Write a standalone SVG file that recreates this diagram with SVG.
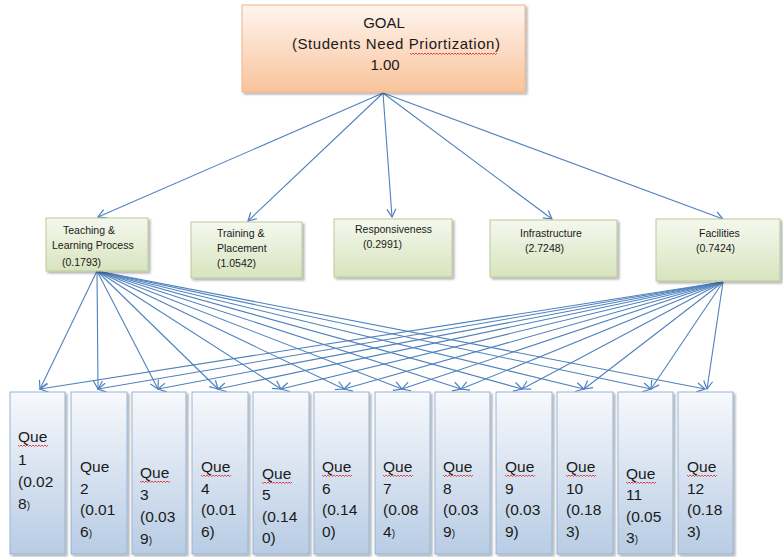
<svg xmlns="http://www.w3.org/2000/svg" width="783" height="557" viewBox="0 0 783 557">
<style>
.t{font-family:"Liberation Sans",Arial,sans-serif;fill:#1a1a1a}
.g{font-size:15px}
.c{font-size:10.5px}
.q{font-size:15.5px}
.sm{font-size:10px}
.ln{stroke:#4f81bd;stroke-width:1.1;fill:none}
.wv{stroke:#e02020;stroke-width:0.8;fill:none}
.qb{fill:url(#qg);stroke:#95b3d7;stroke-width:1}
.cb{fill:url(#cg);stroke:#b9c99a;stroke-width:1}
</style>
<defs>
<linearGradient id="og" x1="0" y1="0" x2="0" y2="1"><stop offset="0" stop-color="#fef5ef"/><stop offset="0.5" stop-color="#fcdcc5"/><stop offset="1" stop-color="#f8c49b"/></linearGradient>
<linearGradient id="cg" x1="0" y1="0" x2="0" y2="1"><stop offset="0" stop-color="#f5f8ee"/><stop offset="1" stop-color="#d8e4be"/></linearGradient>
<linearGradient id="qg" x1="0" y1="0" x2="0" y2="1"><stop offset="0" stop-color="#f7f9fc"/><stop offset="1" stop-color="#b8cce4"/></linearGradient>
<filter id="sh" x="-10%" y="-10%" width="130%" height="130%"><feDropShadow dx="2" dy="2" stdDeviation="1.2" flood-color="#000" flood-opacity="0.3"/></filter>
<marker id="ar" markerWidth="12" markerHeight="12" viewBox="-10 -6 12 12" refX="0" refY="0" orient="auto" markerUnits="userSpaceOnUse"><path d="M-8,-4.5 L0,0 L-8,4.5" stroke="#4f81bd" stroke-width="1.2" fill="none"/></marker>
<path id="wave" d="M0,0 l1.5,1.5 l1.5,-1.5 l1.5,1.5 l1.5,-1.5 l1.5,1.5 l1.5,-1.5 l1.5,1.5 l1.5,-1.5 l1.5,1.5 l1.5,-1.5 l1.5,1.5 l1.5,-1.5 l1.5,1.5 l1.5,-1.5 l1.5,1.5 l1.5,-1.5 l1.5,1.5 l1.5,-1.5 l1.5,1.5 l1.5,-1.5" class="wv"/>
</defs>
<rect width="783" height="557" fill="#fff"/>

<g id="connectors" class="ln" marker-end="url(#ar)">
<line x1="383" y1="93" x2="98" y2="217"/>
<line x1="383" y1="93" x2="248" y2="221"/>
<line x1="383" y1="93" x2="392" y2="217"/>
<line x1="383" y1="93" x2="552" y2="219"/>
<line x1="383" y1="93" x2="723" y2="219"/>
<line x1="97" y1="271" x2="40" y2="389"/>
<line x1="97" y1="271" x2="98" y2="389"/>
<line x1="97" y1="271" x2="158" y2="389"/>
<line x1="97" y1="271" x2="218" y2="389"/>
<line x1="97" y1="271" x2="281" y2="389"/>
<line x1="97" y1="271" x2="344" y2="389"/>
<line x1="97" y1="271" x2="402" y2="389"/>
<line x1="97" y1="271" x2="461" y2="389"/>
<line x1="97" y1="271" x2="522" y2="389"/>
<line x1="97" y1="271" x2="584" y2="389"/>
<line x1="97" y1="271" x2="651" y2="389"/>
<line x1="97" y1="271" x2="705" y2="389"/>
<line x1="723" y1="282" x2="40" y2="389"/>
<line x1="723" y1="282" x2="98" y2="389"/>
<line x1="723" y1="282" x2="158" y2="389"/>
<line x1="723" y1="282" x2="218" y2="389"/>
<line x1="723" y1="282" x2="281" y2="389"/>
<line x1="723" y1="282" x2="344" y2="389"/>
<line x1="723" y1="282" x2="402" y2="389"/>
<line x1="723" y1="282" x2="461" y2="389"/>
<line x1="723" y1="282" x2="522" y2="389"/>
<line x1="723" y1="282" x2="584" y2="389"/>
<line x1="723" y1="282" x2="651" y2="389"/>
<line x1="723" y1="282" x2="707" y2="389"/>
</g>

<g id="goal">
<rect x="242" y="5" width="283" height="87" fill="url(#og)" stroke="#f0b48a" stroke-width="1" filter="url(#sh)"/>
<text class="t g" x="384" y="28" text-anchor="middle">GOAL</text>
<text class="t g" x="292" y="49" textLength="208" lengthAdjust="spacing">(Students Need Priortization)</text>
<use href="#wave" x="410" y="53"/>
<use href="#wave" x="440" y="53"/>
<use href="#wave" x="467" y="53"/>
<text class="t g" x="385" y="70" text-anchor="middle">1.00</text>
</g>

<g id="teaching">
<rect class="cb" x="46" y="218" width="102" height="53" filter="url(#sh)"/>
<text class="t c" x="63" y="234">Teaching &amp;</text>
<text class="t c" x="52" y="249">Learning Process</text>
<text class="t c" x="62" y="266">(0.1793)</text>
</g>
<g id="training">
<rect class="cb" x="191" y="222" width="111" height="56" filter="url(#sh)"/>
<text class="t c" x="217" y="237">Training &amp;</text>
<text class="t c" x="217" y="252">Placement</text>
<text class="t c" x="217" y="267">(1.0542)</text>
</g>
<g id="responsiveness">
<rect class="cb" x="334" y="219" width="118" height="58" filter="url(#sh)"/>
<text class="t c" x="355" y="233">Responsiveness</text>
<text class="t c" x="363" y="248">(0.2991)</text>
</g>
<g id="infrastructure">
<rect class="cb" x="490" y="220" width="127" height="57" filter="url(#sh)"/>
<text class="t c" x="520" y="237">Infrastructure</text>
<text class="t c" x="525" y="252">(2.7248)</text>
</g>
<g id="facilities">
<rect class="cb" x="656" y="219" width="124" height="62" filter="url(#sh)"/>
<text class="t c" x="699" y="237">Facilities</text>
<text class="t c" x="696" y="252">(0.7424)</text>
</g>

<g id="q1"><rect class="qb" x="10" y="392" width="55" height="162" filter="url(#sh)"/>
<text class="t q"><tspan x="18" y="442">Que</tspan><tspan x="18" y="465">1</tspan><tspan x="18" y="487">(0.02</tspan><tspan x="18" y="509">8<tspan class="sm">)</tspan></tspan></text>
<use href="#wave" x="18" y="445"/></g>
<g id="q2"><rect class="qb" x="71" y="392" width="56" height="162" filter="url(#sh)"/>
<text class="t q"><tspan x="80" y="472">Que</tspan><tspan x="80" y="494">2</tspan><tspan x="80" y="515">(0.01</tspan><tspan x="80" y="537">6<tspan class="sm">)</tspan></tspan></text></g>
<g id="q3"><rect class="qb" x="132" y="392" width="54" height="162" filter="url(#sh)"/>
<text class="t q"><tspan x="140" y="478">Que</tspan><tspan x="140" y="500">3</tspan><tspan x="140" y="522">(0.03</tspan><tspan x="140" y="544">9<tspan class="sm">)</tspan></tspan></text>
<use href="#wave" x="140" y="481"/></g>
<g id="q4"><rect class="qb" x="192" y="392" width="56" height="162" filter="url(#sh)"/>
<text class="t q"><tspan x="201" y="472">Que</tspan><tspan x="201" y="494">4</tspan><tspan x="201" y="515">(0.01</tspan><tspan x="201" y="537">6)</tspan></text>
<use href="#wave" x="201" y="475"/></g>
<g id="q5"><rect class="qb" x="253" y="392" width="56" height="162" filter="url(#sh)"/>
<text class="t q"><tspan x="262" y="479">Que</tspan><tspan x="262" y="500">5</tspan><tspan x="262" y="522">(0.14</tspan><tspan x="262" y="543">0)</tspan></text>
<use href="#wave" x="262" y="482"/></g>
<g id="q6"><rect class="qb" x="314" y="392" width="55" height="162" filter="url(#sh)"/>
<text class="t q"><tspan x="322" y="472">Que</tspan><tspan x="322" y="494">6</tspan><tspan x="322" y="515">(0.14</tspan><tspan x="322" y="537">0)</tspan></text>
<use href="#wave" x="322" y="475"/></g>
<g id="q7"><rect class="qb" x="375" y="392" width="55" height="162" filter="url(#sh)"/>
<text class="t q"><tspan x="383" y="472">Que</tspan><tspan x="383" y="494">7</tspan><tspan x="383" y="515">(0.08</tspan><tspan x="383" y="537">4<tspan class="sm">)</tspan></tspan></text>
<use href="#wave" x="383" y="475"/></g>
<g id="q8"><rect class="qb" x="435" y="392" width="55" height="162" filter="url(#sh)"/>
<text class="t q"><tspan x="443" y="472">Que</tspan><tspan x="443" y="494">8</tspan><tspan x="443" y="515">(0.03</tspan><tspan x="443" y="537">9<tspan class="sm">)</tspan></tspan></text>
<use href="#wave" x="443" y="475"/></g>
<g id="q9"><rect class="qb" x="496" y="392" width="56" height="162" filter="url(#sh)"/>
<text class="t q"><tspan x="505" y="472">Que</tspan><tspan x="505" y="494">9</tspan><tspan x="505" y="515">(0.03</tspan><tspan x="505" y="537">9)</tspan></text>
<use href="#wave" x="505" y="475"/></g>
<g id="q10"><rect class="qb" x="557" y="392" width="56" height="162" filter="url(#sh)"/>
<text class="t q"><tspan x="566" y="472">Que</tspan><tspan x="566" y="494">10</tspan><tspan x="566" y="515">(0.18</tspan><tspan x="566" y="537">3)</tspan></text>
<use href="#wave" x="566" y="475"/></g>
<g id="q11"><rect class="qb" x="618" y="392" width="55" height="162" filter="url(#sh)"/>
<text class="t q"><tspan x="626" y="479">Que</tspan><tspan x="626" y="500">11</tspan><tspan x="626" y="522">(0.05</tspan><tspan x="626" y="543">3<tspan class="sm">)</tspan></tspan></text>
<use href="#wave" x="626" y="482"/></g>
<g id="q12"><rect class="qb" x="678" y="392" width="55" height="162" filter="url(#sh)"/>
<text class="t q"><tspan x="687" y="472">Que</tspan><tspan x="687" y="494">12</tspan><tspan x="687" y="515">(0.18</tspan><tspan x="687" y="537">3)</tspan></text>
<use href="#wave" x="687" y="475"/></g>
</svg>
